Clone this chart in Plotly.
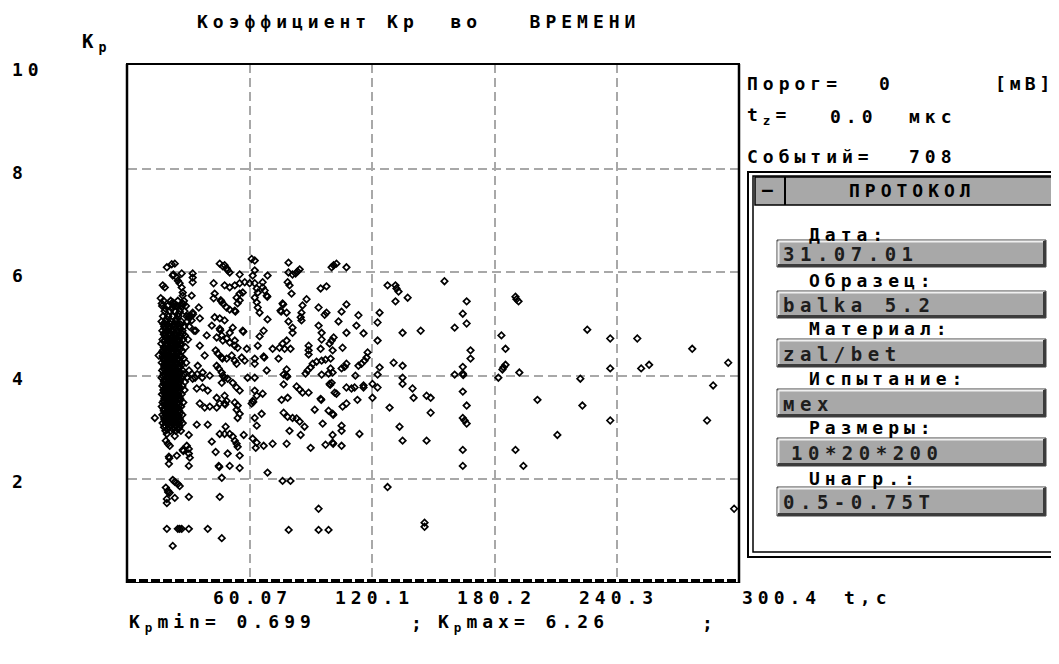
import plotly.graph_objects as go

# ------------------------------------------------------------------ data
# (t, Kp) pairs, grouped by region of the plot
pts_left_top = [
    (19.1, 6.10), (21.5, 6.16), (23.0, 6.17), (22.0, 5.94), (22.3, 5.96), (24.0, 5.90), (24.5, 5.84),
    (25.4, 5.79), (26.4, 5.71), (26.9, 5.61), (26.9, 5.55), (26.4, 5.98), (31.8, 5.98), (31.8, 5.90),
    (31.8, 5.81), (17.1, 5.75), (18.1, 5.71), (16.1, 5.50), (16.6, 5.40), (22.0, 5.42), (22.4, 5.40),
    (26.9, 5.40), (27.2, 5.38), (24.0, 5.36), (24.3, 5.33), (31.3, 5.55), (34.8, 5.32), (31.8, 5.22),
    (32.0, 5.19), (29.9, 5.15), (30.2, 5.12), (15.1, 4.39), (13.2, 3.18),
]

pts_left_core = [
    (17.5, 5.45), (21.0, 5.45), (24.5, 5.45), (27.5, 5.45),
    (16.8, 5.35), (19.5, 5.35), (22.5, 5.35), (26.0, 5.35), (28.5, 5.35),
    (18.0, 5.25), (20.5, 5.25), (23.0, 5.25), (25.5, 5.25), (27.8, 5.25),
    (17.2, 5.15), (19.8, 5.15), (22.0, 5.15), (24.8, 5.15), (28.8, 5.15), (31.0, 5.15),
    (16.5, 5.05), (18.5, 5.05), (21.2, 5.05), (23.5, 5.05), (26.2, 5.05), (29.0, 5.05),
    (17.8, 4.95), (20.0, 4.95), (22.7, 4.95), (25.0, 4.95), (27.5, 4.95), (30.2, 4.95),
    (16.9, 4.87), (19.2, 4.87), (21.6, 4.87), (24.1, 4.87), (26.8, 4.87), (32.5, 4.87),
    (18.2, 4.78), (20.8, 4.78), (23.3, 4.78), (25.7, 4.78), (28.0, 4.78),
    (17.0, 4.70), (19.5, 4.70), (22.2, 4.70), (24.6, 4.70), (27.1, 4.70), (29.5, 4.70),
    (16.4, 4.62), (18.7, 4.62), (21.0, 4.62), (23.8, 4.62), (26.0, 4.62),
    (17.6, 4.55), (20.2, 4.55), (22.8, 4.55), (25.2, 4.55), (28.3, 4.55),
    (16.9, 4.47), (19.0, 4.47), (21.5, 4.47), (24.0, 4.47), (26.6, 4.47),
    (18.1, 4.40), (20.6, 4.40), (23.1, 4.40), (25.5, 4.40),
    (17.2, 4.33), (19.7, 4.33), (22.3, 4.33), (24.8, 4.33), (27.4, 4.33),
    (16.6, 4.25), (18.9, 4.25), (21.3, 4.25), (23.6, 4.25), (26.0, 4.25), (28.6, 4.25),
    (17.9, 4.18), (20.4, 4.18), (22.9, 4.18), (25.3, 4.18),
    (16.8, 4.10), (19.3, 4.10), (21.8, 4.10), (24.3, 4.10), (26.9, 4.10), (30.0, 4.10),
    (17.5, 4.03), (20.0, 4.03), (22.5, 4.03), (25.0, 4.03), (27.5, 4.03), (31.5, 4.03), (34.0, 4.03),
    (16.5, 3.96), (18.8, 3.96), (21.2, 3.96), (23.8, 3.96), (26.3, 3.96), (29.0, 3.96), (33.0, 3.96),
    (36.5, 3.96),
    (17.7, 3.88), (20.3, 3.88), (22.8, 3.88), (25.4, 3.88), (28.0, 3.88),
    (16.9, 3.80), (19.4, 3.80), (21.9, 3.80), (24.4, 3.80), (26.8, 3.80),
    (17.4, 3.72), (20.0, 3.72), (22.6, 3.72), (25.0, 3.72), (27.8, 3.72),
    (16.7, 3.64), (19.0, 3.64), (21.4, 3.64), (24.0, 3.64), (26.4, 3.64),
    (17.9, 3.56), (20.5, 3.56), (23.1, 3.56), (25.6, 3.56),
    (17.0, 3.48), (19.6, 3.48), (22.2, 3.48), (24.7, 3.48), (27.2, 3.48),
    (16.6, 3.40), (18.8, 3.40), (21.3, 3.40), (23.7, 3.40), (26.1, 3.40),
    (17.6, 3.32), (20.1, 3.32), (22.6, 3.32), (25.1, 3.32),
    (16.9, 3.24), (19.3, 3.24), (21.8, 3.24), (24.3, 3.24), (26.7, 3.24),
    (17.8, 3.16), (20.4, 3.16), (22.9, 3.16), (25.5, 3.16),
    (17.0, 3.08), (19.5, 3.08), (22.0, 3.08), (24.4, 3.08), (26.9, 3.08),
    (17.7, 3.00), (20.2, 3.00), (22.7, 3.00), (25.2, 3.00),
    (18.4, 2.93), (21.0, 2.93), (23.5, 2.93), (26.0, 2.93),
]

pts_left_core_dense = [
    (18.3, 5.30), (21.6, 5.30), (24.9, 5.20), (19.0, 5.10), (23.8, 5.10), (17.4, 5.00), (20.9, 5.00),
    (24.2, 5.00), (18.6, 4.91), (21.9, 4.91), (25.6, 4.91), (17.9, 4.83), (20.5, 4.83), (23.1, 4.83),
    (26.2, 4.83), (18.4, 4.74), (21.3, 4.74), (23.9, 4.74), (17.7, 4.66), (20.1, 4.66), (22.6, 4.66),
    (25.3, 4.66), (18.3, 4.58), (21.4, 4.58), (23.9, 4.58), (17.9, 4.51), (20.4, 4.51), (22.9, 4.51),
    (25.6, 4.51), (17.4, 4.44), (19.8, 4.44), (22.2, 4.44), (24.7, 4.44), (18.5, 4.36), (21.0, 4.36),
    (23.6, 4.36), (26.1, 4.36), (17.8, 4.29), (20.2, 4.29), (22.7, 4.29), (25.2, 4.29), (18.3, 4.21),
    (21.0, 4.21), (23.5, 4.21), (26.5, 4.21), (17.6, 4.14), (20.1, 4.14), (22.6, 4.14), (25.1, 4.14),
    (18.3, 4.06), (20.8, 4.06), (23.3, 4.06), (25.8, 4.06), (17.2, 3.99), (19.7, 3.99), (22.1, 3.99),
    (24.6, 3.99), (27.0, 3.99), (18.2, 3.92), (20.7, 3.92), (23.2, 3.92), (25.8, 3.92), (17.5, 3.84),
    (20.0, 3.84), (22.4, 3.84), (24.9, 3.84), (18.3, 3.76), (20.8, 3.76), (23.3, 3.76), (25.9, 3.76),
    (17.9, 3.68), (20.4, 3.68), (22.8, 3.68), (25.3, 3.68), (18.2, 3.60), (20.8, 3.60), (22.4, 3.60),
    (24.6, 3.60), (17.6, 3.52), (20.2, 3.52), (23.0, 3.52), (25.6, 3.52), (18.1, 3.44), (20.6, 3.44),
    (22.9, 3.44), (25.3, 3.44), (17.5, 3.36), (19.5, 3.36), (21.9, 3.36), (24.4, 3.36), (18.2, 3.28),
    (20.7, 3.28), (23.2, 3.28), (25.7, 3.28), (17.7, 3.20), (19.9, 3.20), (21.6, 3.20), (24.1, 3.20),
    (18.3, 3.12), (20.8, 3.12), (23.3, 3.12), (25.9, 3.12), (18.0, 3.04), (21.1, 3.04), (23.6, 3.04),
    (19.4, 2.96), (22.1, 2.96), (24.6, 2.96),
]

pts_left_core_black = [
    (19.3, 4.99), (22.4, 4.99), (25.9, 4.99), (18.0, 4.92), (23.4, 4.92), (20.1, 4.92),
    (19.0, 4.85), (21.9, 4.85), (24.9, 4.85), (17.6, 4.80), (22.6, 4.80), (26.9, 4.80),
    (19.9, 4.73), (22.9, 4.73), (25.6, 4.73), (18.1, 4.68), (21.2, 4.68), (24.2, 4.68),
    (19.3, 4.60), (22.4, 4.60), (25.5, 4.60), (18.2, 4.53), (21.1, 4.53), (24.3, 4.53),
    (19.6, 4.49), (23.3, 4.49), (17.2, 4.49), (18.6, 4.42), (21.5, 4.42), (24.0, 4.42),
    (20.2, 4.38), (22.6, 4.38), (17.0, 4.38), (18.5, 4.31), (21.3, 4.31), (24.2, 4.31),
    (19.6, 4.27), (22.8, 4.27), (25.9, 4.27), (17.9, 4.23), (20.7, 4.23), (23.3, 4.23),
    (19.2, 4.16), (21.7, 4.16), (24.4, 4.16), (18.0, 4.12), (20.9, 4.12), (23.6, 4.12),
    (19.0, 4.08), (22.1, 4.08), (25.0, 4.08), (18.1, 4.01), (21.3, 4.01), (23.9, 4.01),
    (19.5, 3.94), (22.2, 3.94), (24.8, 3.94), (17.8, 3.90), (21.0, 3.90), (23.8, 3.90),
    (19.1, 3.86), (21.8, 3.86), (24.6, 3.86), (18.4, 3.82), (20.9, 3.82), (23.5, 3.82),
    (19.6, 3.78), (22.2, 3.78), (25.0, 3.78), (18.0, 3.74), (21.2, 3.74), (23.9, 3.74),
    (19.3, 3.70), (21.9, 3.70), (24.4, 3.70), (17.8, 3.66), (20.6, 3.66), (23.2, 3.66),
    (19.2, 3.62), (21.8, 3.62), (24.9, 3.62), (18.3, 3.58), (20.9, 3.58), (23.6, 3.58),
    (19.5, 3.54), (22.0, 3.54), (24.5, 3.54), (17.9, 3.50), (20.5, 3.50), (23.3, 3.50),
    (19.2, 3.46), (21.6, 3.46), (24.2, 3.46), (18.4, 3.42), (20.9, 3.42), (23.0, 3.42),
    (19.3, 3.38), (21.9, 3.38), (24.8, 3.38), (17.9, 3.34), (20.6, 3.34), (23.5, 3.34),
    (19.0, 3.30), (21.8, 3.30), (24.3, 3.30), (18.3, 3.26), (20.9, 3.26), (23.4, 3.26),
    (19.2, 3.22), (22.0, 3.22), (24.9, 3.22), (18.6, 3.18), (21.2, 3.18), (23.8, 3.18),
    (19.5, 3.14), (22.1, 3.14), (24.6, 3.14), (18.5, 3.10), (21.4, 3.10), (23.9, 3.10),
    (19.8, 3.06), (22.4, 3.06), (25.0, 3.06),
]

pts_left_low = [
    (19.1, 2.87), (23.0, 2.83), (29.9, 2.85), (19.6, 2.68), (20.5, 2.64), (28.9, 2.64), (29.9, 2.58),
    (26.9, 2.56), (27.2, 2.54), (29.9, 2.49), (30.4, 2.41), (24.0, 2.45), (20.1, 2.43), (20.3, 2.40),
    (20.1, 2.29), (29.9, 2.25), (18.6, 2.74), (33.8, 3.05),
    (22.0, 1.98), (23.0, 1.94), (24.5, 1.90), (25.4, 1.86), (18.6, 1.83), (19.6, 1.77), (19.8, 1.74),
    (20.5, 1.73), (19.1, 1.61), (23.0, 1.63), (29.9, 1.65), (19.1, 1.53),
    (19.1, 1.03), (24.5, 1.03), (25.4, 1.03), (26.4, 1.03), (29.9, 1.03), (39.2, 1.03), (46.1, 0.85),
    (22.0, 0.70),
]

pts_mid_a = [
    (45.1, 6.17), (46.6, 6.12), (47.5, 6.14), (48.5, 6.08), (49.0, 6.04), (50.0, 6.00), (54.9, 5.96),
    (42.1, 5.79), (47.5, 5.75), (50.0, 5.71), (52.5, 5.75), (54.9, 5.79), (57.4, 5.81), (59.8, 5.79),
    (62.3, 5.79), (63.3, 5.69), (63.8, 5.61), (61.3, 5.94), (62.3, 6.04), (60.8, 6.26), (62.3, 6.23),
    (42.6, 5.59), (42.1, 5.50), (45.6, 5.46), (45.9, 5.44), (46.6, 5.40), (48.5, 5.32), (50.0, 5.28),
    (53.4, 5.51), (54.9, 5.59), (56.4, 5.61), (52.5, 5.26), (52.8, 5.24), (54.9, 5.46), (53.9, 5.40),
    (62.3, 5.51), (63.3, 5.42), (63.8, 5.32), (64.7, 5.22), (42.6, 5.13), (45.1, 5.11), (47.5, 5.07),
    (41.2, 4.97), (45.1, 4.91), (45.4, 4.88), (56.4, 4.87), (56.7, 4.85), (50.0, 4.83), (51.5, 4.93),
    (46.1, 4.78), (43.6, 4.74), (48.5, 4.72), (46.6, 4.68), (50.0, 4.64), (52.5, 4.68), (52.5, 4.58),
    (53.9, 4.54), (58.4, 4.52), (63.8, 4.58), (43.1, 4.49), (44.1, 4.43), (46.1, 4.35), (46.4, 4.33),
    (48.5, 4.33), (51.0, 4.39), (52.5, 4.29), (53.4, 4.23), (57.4, 4.29), (55.9, 4.35), (62.3, 4.33),
    (62.3, 4.23), (43.6, 4.19), (44.6, 4.14), (46.1, 4.06), (46.6, 4.00), (47.5, 3.96), (49.0, 3.94),
    (40.2, 4.00), (51.5, 3.86), (53.4, 3.77), (54.9, 3.71), (46.1, 3.86), (36.7, 3.77), (39.2, 3.71),
    (43.6, 3.57), (47.5, 3.61), (48.5, 3.51), (45.1, 3.46), (52.5, 3.48), (53.9, 3.42), (53.4, 3.34),
    (62.3, 3.71), (63.3, 3.61), (61.3, 3.51), (61.6, 3.49), (60.8, 3.46), (58.8, 3.96), (62.3, 3.96),
    (35.3, 3.46), (37.7, 3.38), (40.2, 3.40), (43.6, 3.38), (47.5, 3.46), (47.8, 3.44), (54.9, 3.26),
    (53.9, 3.18), (62.3, 3.18),
    (33.3, 4.87), (35.3, 4.58), (37.7, 4.39), (34.3, 4.19), (36.7, 4.06), (31.8, 3.94), (33.8, 3.75),
    (31.3, 5.07), (35.3, 5.11), (38.7, 4.78),
    (39.2, 3.05), (48.0, 3.01), (45.1, 2.87), (47.5, 2.87), (50.0, 2.87), (51.5, 2.82), (52.5, 2.74),
    (53.4, 2.68), (53.9, 2.62), (41.2, 2.72), (43.1, 2.52), (49.0, 2.49), (54.9, 2.45), (56.9, 2.85),
    (50.0, 2.25), (54.9, 2.21), (44.6, 2.25), (44.9, 2.23), (46.1, 2.02), (45.1, 1.65),
    (63.3, 3.03), (61.3, 2.78), (63.3, 2.70), (62.8, 2.60), (66.7, 2.64), (71.1, 2.68),
]

pts_mid_b = [
    (78.9, 6.19), (78.9, 6.00), (80.9, 5.96), (82.4, 5.98), (83.4, 6.02), (84.4, 6.06), (100.1, 6.10),
    (101.1, 6.14), (102.5, 6.17), (107.4, 6.10), (68.6, 5.94), (66.2, 5.81), (66.2, 5.71), (67.2, 5.65),
    (68.2, 5.55), (68.5, 5.53), (78.5, 5.81), (79.4, 5.75), (80.4, 5.59), (94.7, 5.69), (97.6, 5.73),
    (76.0, 5.40), (76.3, 5.38), (75.0, 5.26), (75.3, 5.24), (78.0, 5.22), (87.8, 5.48), (85.8, 5.36),
    (85.3, 5.22), (84.9, 5.13), (85.3, 5.07), (93.7, 5.32), (97.6, 5.22), (96.7, 5.18), (105.0, 5.24),
    (107.4, 5.38), (113.3, 5.17), (68.6, 5.09), (78.9, 5.05), (80.9, 4.93), (80.9, 4.83), (93.7, 4.97),
    (95.2, 4.83), (95.2, 4.70), (103.5, 5.05), (112.3, 4.97), (115.8, 4.82), (107.4, 4.83), (66.7, 4.87),
    (64.7, 4.76), (78.0, 4.68), (76.0, 4.62), (74.5, 4.54), (77.0, 4.52), (79.9, 4.52), (71.1, 4.52),
    (88.8, 4.58), (88.8, 4.49), (88.8, 4.41), (101.1, 4.74), (100.1, 4.68), (99.1, 4.62), (100.6, 4.49),
    (94.7, 4.52), (105.5, 4.54), (66.7, 4.37), (67.0, 4.35), (74.0, 4.33), (95.2, 4.29), (97.1, 4.31),
    (99.6, 4.33), (92.7, 4.27), (90.8, 4.23), (89.8, 4.16), (88.3, 4.10), (117.8, 4.45), (117.3, 4.35),
    (116.3, 4.29), (114.8, 4.23), (113.3, 4.19), (107.4, 4.23), (106.5, 4.17), (105.0, 4.14),
    (99.6, 4.14), (100.6, 4.06), (98.6, 4.04), (78.0, 4.12), (76.5, 4.02), (78.0, 4.00), (78.3, 3.98),
    (68.2, 4.10), (87.3, 4.04), (95.2, 4.02), (111.8, 4.00), (99.1, 3.84), (99.4, 3.82), (100.1, 3.86),
    (76.5, 3.83), (82.9, 3.79), (84.4, 3.73), (85.8, 3.67), (88.8, 3.67), (101.6, 3.67), (102.5, 3.65),
    (107.4, 3.77), (109.9, 3.75), (111.4, 3.77), (115.8, 3.81), (115.8, 3.77), (66.2, 3.65), (75.5, 3.53),
    (78.5, 3.57), (94.7, 3.55), (95.0, 3.53), (112.8, 3.53), (107.4, 3.46), (105.5, 3.40), (100.6, 3.26),
    (100.9, 3.24), (98.6, 3.32), (91.8, 3.34), (76.5, 3.28), (78.5, 3.20), (80.9, 3.18), (82.9, 3.17),
    (84.4, 3.11), (86.8, 3.01), (65.7, 3.26), (95.7, 3.07), (105.0, 3.03), (105.0, 2.93), (79.4, 2.93),
    (84.9, 2.85), (113.8, 2.87), (78.0, 2.68), (89.8, 2.60), (97.1, 2.66), (100.6, 2.70), (100.9, 2.68),
    (100.6, 2.85), (105.0, 2.64),
    (79.0, 1.01), (93.7, 1.01), (98.6, 1.01), (93.7, 1.42), (76.0, 1.96), (79.9, 1.96), (68.6, 2.12),
]

pts_late = [
    (127.6, 5.75), (131.5, 5.75), (132.0, 5.69), (133.0, 5.63), (137.5, 5.51), (131.5, 5.44),
    (155.6, 5.83), (123.7, 5.22), (122.7, 5.03), (122.7, 4.68), (135.0, 4.83), (143.9, 4.87),
    (123.7, 4.16), (130.6, 4.25), (135.0, 4.19), (122.7, 4.02), (135.0, 3.96), (135.0, 3.84),
    (120.2, 3.84), (122.7, 3.77), (120.2, 3.57), (139.9, 3.75), (140.4, 3.57), (146.8, 3.61),
    (148.8, 3.57), (128.6, 3.38), (148.8, 3.28), (133.5, 3.01), (135.0, 2.74), (146.8, 2.74),
    (127.6, 1.84), (145.8, 1.15), (145.8, 1.07),
    (166.5, 5.44), (164.6, 5.20), (166.5, 5.01), (160.6, 4.93), (168.4, 4.49), (168.4, 4.33),
    (164.6, 4.17), (164.6, 4.04), (164.8, 4.01), (160.6, 4.02), (164.6, 3.69), (166.5, 3.42),
    (164.6, 3.18), (165.5, 3.13), (166.5, 3.07), (164.6, 2.56), (164.6, 2.25), (190.5, 5.53),
    (191.0, 5.48), (192.0, 5.44), (183.6, 4.78), (185.6, 4.52), (185.6, 4.21), (184.6, 4.16),
    (184.1, 4.12), (182.1, 3.96), (192.4, 4.06), (201.3, 3.53), (211.1, 2.85), (190.5, 2.56),
    (194.4, 2.25), (222.4, 3.94), (223.4, 3.42), (225.8, 4.89), (237.1, 4.72), (250.4, 4.72),
    (277.4, 4.52), (295.1, 4.25), (237.1, 4.14), (252.3, 4.14), (256.2, 4.21), (287.7, 3.81),
    (237.1, 3.13), (284.7, 3.13), (298.0, 1.42),
]

x_tick_vals = [60.07, 120.1, 180.2, 240.3]
x_tick_text = ["60.07", "120.1", "180.2", "240.3"]
x_max_label = "300.4"
y_tick_vals = [10, 8, 6, 4, 2]

title_text = "Коэффициент Кр  во   ВРЕМЕНИ"
kp_min_text = "0.699"
kp_max_text = "6.26"
events = "708"
threshold = "0"
tz_value = "0.0"

protocol_labels = ["Дата:", "Образец:", "Материал:", "Испытание:", "Размеры:", "Uнагр.:"]
protocol_values = ["31.07.01", "balka 5.2", "zal/bet", "мех", "10*20*200", "0.5-0.75Т"]

# ------------------------------------------------------------------ geometry
# page coordinates below refer to the 1059x664 window; the page body adds an 8 px margin
OFF = 8
W, H = 1059 - OFF, 664 - OFF
L, T = 128 - OFF, 64 - OFF
PW, PH = 611, 518
R, B = W - L - PW, H - T - PH


def px(x):
    return (x - OFF - L) / PW


def py(y):
    return (H - B - (y - OFF)) / PH


all_pts = (pts_left_top + pts_left_core + pts_left_core_dense + pts_left_core_black + pts_left_low
           + pts_mid_a + pts_mid_b + pts_late)
t_vals = [p[0] for p in all_pts]
kp_vals = [p[1] for p in all_pts]

fig = go.Figure()
fig.add_trace(go.Scatter(
    x=t_vals, y=kp_vals, mode="markers",
    marker=dict(symbol="diamond-open", size=5, color="black", line=dict(width=1.7, color="black")),
    hoverinfo="skip", showlegend=False, cliponaxis=False,
))

FONT = "DejaVu Sans Mono"
ann = []


def txt(s, x, y, size=18, anchor="left", color="black", ls=5, bold=True):
    ann.append(dict(
        text=f'<span style="letter-spacing:{ls}px">{s}</span>',
        x=px(x), y=py(y), xref="paper", yref="paper", xanchor=anchor, yanchor="middle", showarrow=False,
        font=dict(family=FONT, size=size, color=color, weight="bold" if bold else "normal"),
    ))


# title and axis labels
txt(title_text, 195, 22)
txt("K<sub>p</sub>", 80, 43, size=19)
for v in y_tick_vals:
    ann.append(dict(
        text=f'<span style="letter-spacing:5px">{v}</span>', x=px(10), y=v, xref="paper", yref="y",
        xanchor="left", yanchor="middle", yshift=-3, showarrow=False,
        font=dict(family=FONT, size=18, color="black", weight="bold"),
    ))
for v, s in zip(x_tick_vals, x_tick_text):
    ann.append(dict(
        text=f'<span style="letter-spacing:5px">{s}</span>', x=v, y=py(597), xref="x", yref="paper",
        xanchor="center", yanchor="middle", xshift=2, showarrow=False,
        font=dict(family=FONT, size=18, color="black", weight="bold"),
    ))
txt(x_max_label, 740, 597)
txt("t,c", 842, 597)

# bottom statistics line
txt("K<sub>p</sub>min= " + kp_min_text, 127, 623)
txt(";", 409, 623)
txt("K<sub>p</sub>max= " + kp_max_text, 436, 623)
txt(";", 700, 623)

# right information block
txt("Порог=", 745, 83)
txt(threshold, 877, 83)
txt("[мВ]", 993, 83, ls=4)
txt("t<sub>z</sub>=", 745, 116)
txt(tz_value, 828, 116)
txt("мкс", 907, 116)
txt("Событий=", 745, 156)
txt(events, 907, 156)

shapes = []


def rect(x0, y0, x1, y1, fill=None, line_color="black", width=1.5):
    shapes.append(dict(type="rect", xref="paper", yref="paper", x0=px(x0), x1=px(x1), y0=py(y0), y1=py(y1),
                       fillcolor=fill if fill else "rgba(0,0,0,0)",
                       line=dict(color=line_color, width=width), layer="above"))


def line(x0, y0, x1, y1, color="black", width=1.5, dash="solid"):
    shapes.append(dict(type="line", xref="paper", yref="paper", x0=px(x0), x1=px(x1), y0=py(y0), y1=py(y1),
                       line=dict(color=color, width=width, dash=dash), layer="above"))


# plot frame
line(127, 64, 127, 583, width=2.5)
line(126, 64, 740, 64, width=2)
line(739, 64, 739, 583, width=2.5)
line(126, 582.5, 740, 582.5, width=1.2)
line(127, 580.5, 739, 580.5, width=3, dash="9px,3px")

# protocol panel
rect(748, 172, 1064, 557, fill="white", width=2)
rect(753, 176, 1064, 552, width=1.5)
rect(755, 177, 1064, 205, fill="#a8a8a8", width=1.5)
line(785, 177, 785, 205, width=2)
txt("—", 760, 190, size=18, ls=0)
txt("ПРОТОКОЛ", 847, 191)

label_y = [234, 280, 328, 378, 428, 478]
box_y = [(240, 267), (291, 318), (339, 367), (389, 417), (438, 466), (487, 516)]
for lab, val, ly, (b0, b1) in zip(protocol_labels, protocol_values, label_y, box_y):
    txt(lab, 807, ly)
    rect(777, b0, 1046, b1, fill="#a8a8a8", line_color="#404040", width=1)
    line(778.5, b0 + 1.5, 1044, b0 + 1.5, color="#f0f0f0", width=2)
    line(778.5, b0 + 1.5, 778.5, b1 - 2, color="#f0f0f0", width=2)
    line(778, b1 - 1.5, 1045.5, b1 - 1.5, color="#3c3c3c", width=3)
    line(1044.5, b0 + 1, 1044.5, b1 - 1, color="#3c3c3c", width=3)
    xoff = 789 if val.startswith("10*") else 781
    txt(val, xoff, (b0 + b1) / 2 + 0.5, size=19, ls=5.5, color="#1e1e1e")

fig.update_layout(
    width=W, height=H, margin=dict(l=L, r=R, t=T, b=B),
    paper_bgcolor="white", plot_bgcolor="white",
    xaxis=dict(range=[0, 300.4], tickvals=x_tick_vals, showticklabels=False, ticks="",
               showgrid=True, gridcolor="#a8a8a8", gridwidth=2, griddash="9px,5px",
               zeroline=False, showline=False, fixedrange=True),
    yaxis=dict(range=[0, 10.04], tickvals=[2, 4, 6, 8], showticklabels=False, ticks="",
               showgrid=True, gridcolor="#a8a8a8", gridwidth=2, griddash="9px,5px",
               zeroline=False, showline=False, fixedrange=True),
    annotations=ann, shapes=shapes, showlegend=False,
)

fig.write_html("out.html")
